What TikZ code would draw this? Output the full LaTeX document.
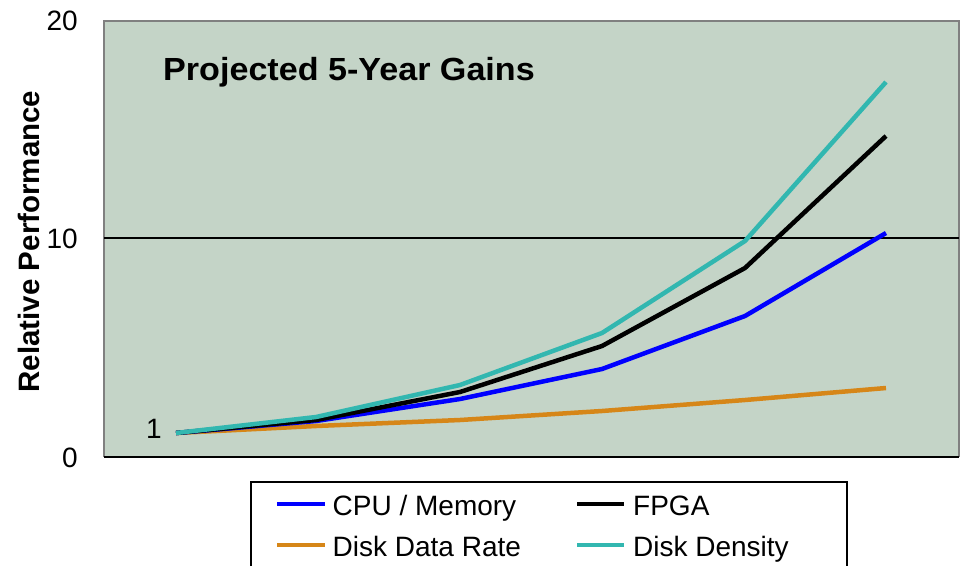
\documentclass[tikz,border=0pt]{standalone}
\usepackage{fontspec}
\setmainfont{Liberation Sans}
\definecolor{plotbg}{RGB}{196,212,199}
\definecolor{framegray}{RGB}{128,128,128}
\definecolor{cpublue}{RGB}{0,0,255}
\definecolor{diskorange}{RGB}{214,134,24}
\definecolor{diskteal}{RGB}{50,183,176}
\tikzset{
  series/.style={line width=4.5pt, line join=round},
  ticklbl/.style={font=\fontsize{28}{32}\selectfont, anchor=base east, inner sep=0pt},
  legtxt/.style={font=\fontsize{28}{32}\selectfont, anchor=base west, inner sep=0pt},
  legline/.style={line width=4.5pt}
}
\begin{document}
\begin{tikzpicture}[x=1pt,y=-1pt]
\useasboundingbox (0,0) rectangle (961,566);
% plot area
\fill[plotbg] (104,21) rectangle (959,457);
\draw[framegray, line width=2pt] (104,457) -- (104,21) -- (959,21) -- (959,457);
\draw[black, line width=2pt] (104,457) -- (959,457);
\draw[black, line width=1.3pt] (104,238) -- (959,238);
% tick labels
\node[ticklbl] (t20) at (78,30) {20};
\node[ticklbl] (t10) at (78,248) {10};
\node[ticklbl] (t0) at (78,467) {0};
\node[ticklbl] (t1) at (162,438) {1};
% axis title
\node[font=\bfseries\fontsize{29.5}{32}\selectfont, rotate=90, anchor=base, inner sep=0pt] (ytitle) at (39,241.5) {Relative Performance};
% chart title
\node[font=\bfseries\fontsize{32}{36}\selectfont, anchor=base west, inner sep=0pt] (title) at (163,80) {\scalebox{1.066}[1]{Projected 5-Year Gains}};
% series
\draw[series, diskorange] (176,433) -- (316,426) -- (460,420) -- (602,411) -- (745,400) -- (886,388);
\draw[series, cpublue] (176,433) -- (316,421) -- (460,399) -- (602,369) -- (745,316) -- (886,233);
\draw[series, black] (176,433) -- (316,420) -- (460,392) -- (602,346) -- (745,268) -- (886,136);
\draw[series, diskteal] (176,433) -- (316,417) -- (460,385) -- (602,333) -- (745,241) -- (886,82);
% legend
\draw[black, line width=1.5pt] (251,566) -- (251,482) -- (847,482) -- (847,566);
\coordinate (l1a) at (277,504); \coordinate (l1b) at (325,504);
\coordinate (l2a) at (577,504); \coordinate (l2b) at (624,504);
\coordinate (l3a) at (277,545); \coordinate (l3b) at (325,545);
\coordinate (l4a) at (577,545); \coordinate (l4b) at (624,545);
\draw[legline, cpublue] (l1a) -- (l1b);
\draw[legline, black] (l2a) -- (l2b);
\draw[legline, diskorange] (l3a) -- (l3b);
\draw[legline, diskteal] (l4a) -- (l4b);
\node[legtxt] (lg1) at (332.5,515) {CPU / Memory};
\node[legtxt] (lg2) at (633,515) {FPGA};
\node[legtxt] (lg3) at (332.5,556) {Disk Data Rate};
\node[legtxt] (lg4) at (633,556) {Disk Density};
\end{tikzpicture}
\end{document}
